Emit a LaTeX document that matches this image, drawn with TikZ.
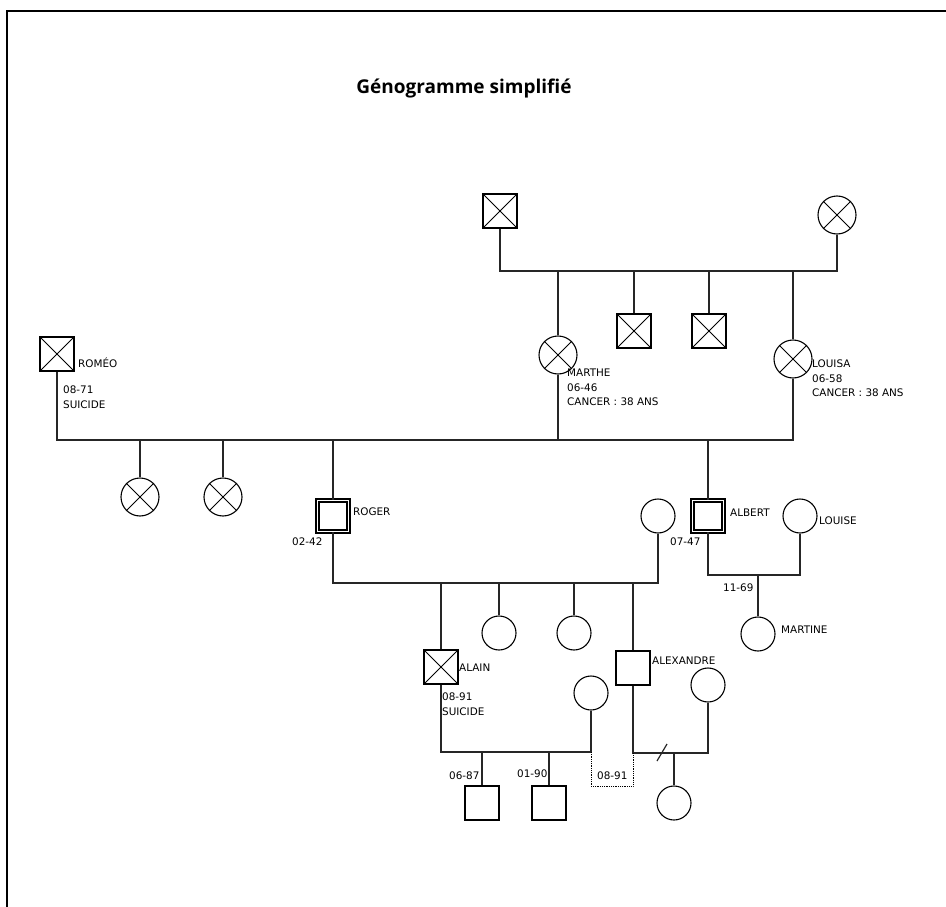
\documentclass[tikz,border=0pt]{standalone}
\usepackage{fontspec}
\setmainfont{DejaVu Sans}
\newfontfamily\titlefont{Open Sans}
\begin{document}
\begin{tikzpicture}[x=1pt,y=-1pt,
  conn/.style={line width=1.2pt, black!85},
  male/.style={draw, rectangle, minimum size=34pt, inner sep=0pt, line width=1.3pt},
  female/.style={draw, circle, minimum size=34pt, inner sep=0pt, line width=1.1pt},
  bigc/.style={minimum size=38pt},
  dead/.style={path picture={\draw[line width=0.9pt] (path picture bounding box.north west) -- (path picture bounding box.south east) (path picture bounding box.north east) -- (path picture bounding box.south west);}},
  index/.style={double, double distance=1.6pt, line width=1.3pt, minimum size=31pt},
  lbl/.style={inner sep=0pt, anchor=west, font=\fontsize{10.4}{14.5}\selectfont},
  blk/.style={inner sep=0pt, anchor=north west, align=left, font=\fontsize{10.4}{14.5}\selectfont}]
\useasboundingbox (0,0) rectangle (946,907);
\fill[white] (0,0) rectangle (946,907);
\draw[line width=1.6pt] (7,907) -- (7,11) -- (946,11);
\node[font=\titlefont\bfseries\fontsize{19}{23}\selectfont] (title) at (464,89) {Génogramme simplifié};

% generation 1
\node[male,dead] (gf) at (500,211) {};
\node[female,bigc,dead] (gm) at (837,215) {};
% generation 2
\node[female,bigc,dead] (marthe) at (558,355) {};
\node[male,dead] (u1) at (634,331) {};
\node[male,dead] (u2) at (709,331) {};
\node[female,bigc,dead] (louisa) at (793,359) {};
\node[male,dead] (romeo) at (57,354) {};
% generation 3
\node[female,bigc,dead] (s1) at (140,497) {};
\node[female,bigc,dead] (s2) at (223,497) {};
\node[male,index] (roger) at (333,516) {};
\node[male,index] (albert) at (708,516) {};
\node[female] (rw) at (658,516) {};
\node[female] (louise) at (800,516) {};
% generation 4
\node[female] (martine) at (758,634) {};
\node[male,dead] (alain) at (441,667) {};
\node[female] (d1) at (499,633) {};
\node[female] (d2) at (574,633) {};
\node[male] (alex) at (633,668) {};
\node[female] (aw) at (591,693) {};
\node[female] (xw) at (708,685) {};
% generation 5
\node[male] (k1) at (482,803) {};
\node[male] (k2) at (549,803) {};
\node[female] (xc) at (674,803) {};

% line levels
\coordinate (L1) at (0,271);
\coordinate (L2) at (0,440);
\coordinate (L3) at (0,583);
\coordinate (L4) at (0,575);
\coordinate (L5) at (0,752);
\coordinate (L6) at (0,753);
\coordinate (DL) at (0,786);
\coordinate (dv1) at (657,761);
\coordinate (dv2) at (667,744);

\draw[conn] (gf.south) -- (gf.south |- L1) -- (gm.south |- L1) -- (gm.south);
\foreach \n in {marthe,u1,u2,louisa} \draw[conn] (\n.north) -- (\n.north |- L1);
\draw[conn] (romeo.south) -- (romeo.south |- L2) -- (louisa.south |- L2) -- (louisa.south);
\draw[conn] (marthe.south) -- (marthe.south |- L2);
\foreach \n in {s1,s2,roger,albert} \draw[conn] (\n.north) -- (\n.north |- L2);
\draw[conn] (roger.south) -- (roger.south |- L3) -- (rw.south |- L3) -- (rw.south);
\foreach \n in {alain,d1,d2,alex} \draw[conn] (\n.north) -- (\n.north |- L3);
\draw[conn] (albert.south) -- (albert.south |- L4) -- (louise.south |- L4) -- (louise.south);
\draw[conn] (martine.north) -- (martine.north |- L4);
\draw[conn] (alain.south) -- (alain.south |- L5) -- (aw.south |- L5) -- (aw.south);
\foreach \n in {k1,k2} \draw[conn] (\n.north) -- (\n.north |- L5);
\draw[conn] (alex.south) -- (alex.south |- L6) -- (xw.south |- L6) -- (xw.south);
\draw[conn] (xc.north) -- (xc.north |- L6);
\draw[line width=0.8pt, dash pattern=on 0.8pt off 1pt] (aw.south |- L5) -- (aw.south |- DL) -- (alex.south |- DL) -- (alex.south |- L6);
\draw[conn] (dv1) -- (dv2);

% labels
\node[lbl] (tromeo) at (78,363) {ROMÉO};
\node[blk] (dromeo) at (63,386) {08-71\\SUICIDE};
\node[blk] (tmarthe) at (567,369) {MARTHE\\06-46\\CANCER : 38 ANS};
\node[blk] (tlouisa) at (812,360) {LOUISA\\06-58\\CANCER : 38 ANS};
\node[lbl] (troger) at (353,512) {ROGER};
\node[lbl] (droger) at (292,542) {02-42};
\node[lbl] (talbert) at (730,513) {ALBERT};
\node[lbl] (dalbert) at (670,542) {07-47};
\node[lbl] (tlouise) at (819,521) {LOUISE};
\node[lbl] (dmar) at (723,588) {11-69};
\node[lbl] (tmartine) at (781,630) {MARTINE};
\node[lbl] (talain) at (459,668) {ALAIN};
\node[blk] (dalain) at (442,693) {08-91\\SUICIDE};
\node[lbl] (talex) at (652,661) {ALEXANDRE};
\node[lbl] (dk1) at (449,776) {06-87};
\node[lbl] (dk2) at (517,774) {01-90};
\node[lbl] (dsep) at (597,776) {08-91};
\end{tikzpicture}
\end{document}
